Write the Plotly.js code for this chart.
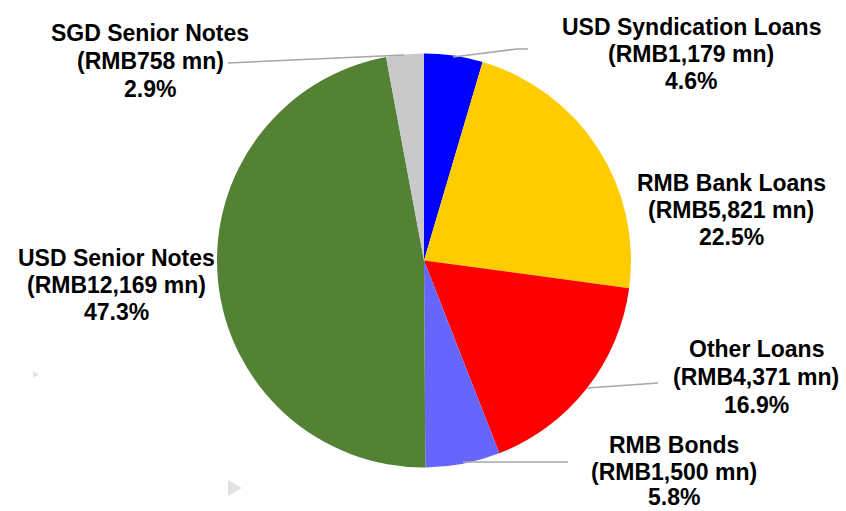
<!DOCTYPE html>
<html>
<head>
<meta charset="utf-8">
<script src="https://cdn.plot.ly/plotly-3.0.1.min.js"></script>
<style>html,body{margin:0;padding:0;background:#fff;}#chart{width:846px;height:511px;}</style>
</head>
<body>
<div id="chart"></div>
<script>
const categories = ["USD Syndication Loans","RMB Bank Loans","Other Loans","RMB Bonds","USD Senior Notes","SGD Senior Notes"];
const amounts = [1179, 5821, 4371, 1500, 12169, 758];
const amountLabels = ["RMB1,179 mn","RMB5,821 mn","RMB4,371 mn","RMB1,500 mn","RMB12,169 mn","RMB758 mn"];
const percentLabels = ["4.6%","22.5%","16.9%","5.8%","47.3%","2.9%"];
const colors = ["#0000FF","#FFCC00","#FF0000","#6666FF","#548235","#C9C9C9"];

const W = 846, H = 511;
const px = x => x / W;
const py = y => 1 - y / H;

// label placement (pixels): centre x, and y of the three lines
const labelX = [691, 731, 756, 674, 116, 150];
const labelY = [[27,54,81],[183,210,237],[349,377,405],[445,472,497],[258,285,312],[33,61,89]];
// leader lines (pixels)
const leaders = [
  [[453,57],[517,49],[528,49]],
  null,
  [[587,388],[658,383]],
  [[463,462],[568,462]],
  null,
  [[404,55],[228,63]]
];

const annotations = [];
categories.forEach((c,i)=>{
  const lines = [c, '('+amountLabels[i]+')', percentLabels[i]];
  lines.forEach((t,k)=>{
    annotations.push({
      xref:'paper', yref:'paper', x:px(labelX[i]), y:py(labelY[i][k]),
      xanchor:'center', yanchor:'middle', showarrow:false, align:'center',
      text:'<b>'+t+'</b>',
      font:{family:'Liberation Sans, Arial, sans-serif', size:23, color:'#000'}
    });
  });
});

const shapes = [];
leaders.forEach(l=>{
  if(!l) return;
  const d = l.map((p,k)=>(k?'L':'M')+px(p[0])+','+py(p[1])).join(' ');
  shapes.push({type:'path', xref:'paper', yref:'paper', path:d, line:{color:'#A6A6A6', width:1.5}});
});
// faint triangles in the background
shapes.push({type:'path', xref:'paper', yref:'paper', path:`M${px(33)},${py(371)} L${px(39)},${py(374.5)} L${px(33)},${py(378)} Z`, fillcolor:'#E3E3E3', line:{width:0}});
shapes.push({type:'path', xref:'paper', yref:'paper', path:`M${px(228)},${py(480)} L${px(242)},${py(488)} L${px(228)},${py(496)} Z`, fillcolor:'#E3E3E3', line:{width:0}});

const trace = {
  type:'pie', labels:categories, values:amounts, sort:false, direction:'clockwise', rotation:0,
  marker:{colors:colors, line:{width:0}}, textinfo:'none', hoverinfo:'label+value',
  domain:{x:[px(424-207), px(424+207)], y:[py(467.5), py(53.5)]}
};

Plotly.newPlot('chart',[trace],{
  width:W, height:H, margin:{l:0,r:0,t:0,b:0}, showlegend:false,
  paper_bgcolor:'#fff', annotations:annotations, shapes:shapes
},{displayModeBar:false, staticPlot:true});
</script>
</body>
</html>
